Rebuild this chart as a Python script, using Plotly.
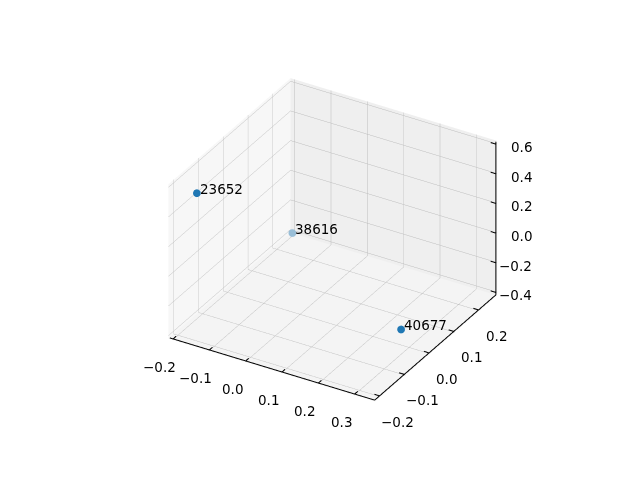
import numpy as np
import plotly.graph_objects as go

# data
labels = ["23652", "38616", "40677"]
xs = [-0.14, -0.20, 0.346]
ys = [-0.212, 0.262, -0.10]
zs = [0.60, -0.40, -0.12]

x_ticks = [-0.2, -0.1, 0.0, 0.1, 0.2, 0.3]
y_ticks = [-0.2, -0.1, 0.0, 0.1, 0.2]
z_ticks = [-0.4, -0.2, 0.0, 0.2, 0.4, 0.6]

def padded(v):
    lo, hi = min(v), max(v)
    p = (hi - lo) / 48.0
    return [lo - p, hi + p]

xr, yr, zr = padded(xs), padded(ys), padded(zs)

def fmt(t):
    return f"{t:.1f}".replace("-", "\u2212")

# matplotlib-like depth shading (view elev=30, azim=-60, box aspect 4:4:3)
el, az = np.radians(30), np.radians(-60)
view = np.array([np.cos(el) * np.cos(az), np.cos(el) * np.sin(az), np.sin(el)])
right = np.array([-np.sin(az), np.cos(az), 0.0])
P = np.array([
    [(x - xr[0]) / (xr[1] - xr[0]) * 4 for x in xs],
    [(y - yr[0]) / (yr[1] - yr[0]) * 4 for y in ys],
    [(z - zr[0]) / (zr[1] - zr[0]) * 3 for z in zs],
])
depth = view @ P
norm = (depth.max() - depth) / (depth.max() - depth.min())
alphas = 1 - 0.7 * norm
alphas = 1 - (1 - alphas) ** 1.5   # face + edge overlap
base = np.array([31, 119, 180])
bg = np.array([240, 240, 240])
colors = []
for a in alphas:
    c = a * base + (1 - a) * bg
    colors.append("rgb(%d,%d,%d)" % tuple(np.round(c).astype(int)))

fig = go.Figure()
fig.add_trace(go.Scatter3d(
    x=xs, y=ys, z=zs, mode="markers",
    marker=dict(size=4.5, color=colors, line=dict(width=0)),
    hoverinfo="skip", showlegend=False,
))

# axis lines on the matplotlib edges (nudged just inside the box so the
# panes do not hide them), with tick marks
ex = (xr[1] - xr[0]) * 0.004
ey = (yr[1] - yr[0]) * 0.004
ez = (zr[1] - zr[0]) * 0.004
dx = (xr[1] - xr[0]) * 0.025
dy = (yr[1] - yr[0]) * 0.025
x0e, x1e = xr[0] + ex, xr[1] - ex
y0e, y1e = yr[0] + ey, yr[1] - ey
z0e, z1e = zr[0] + ez, zr[1] - ez
lx, ly, lz = [], [], []
# x axis: y = ymin, z = zmin
lx += [x0e, x1e, None]; ly += [y0e, y0e, None]; lz += [z0e, z0e, None]
for t in x_ticks:
    lx += [t, t, None]; ly += [y0e, y0e + dy, None]; lz += [z0e, z0e, None]
# y axis: x = xmax, z = zmin
lx += [x1e, x1e, None]; ly += [y0e, y1e, None]; lz += [z0e, z0e, None]
for t in y_ticks:
    lx += [x1e, x1e - dx, None]; ly += [t, t, None]; lz += [z0e, z0e, None]
# z axis: x = xmax, y = ymax
lx += [x1e, x1e, None]; ly += [y1e, y1e, None]; lz += [z0e, z1e, None]
for t in z_ticks:
    lx += [x1e, x1e - dx, None]; ly += [y1e, y1e, None]; lz += [t, t, None]
fig.add_trace(go.Scatter3d(x=lx, y=ly, z=lz, mode="lines",
                           line=dict(color="black", width=2),
                           hoverinfo="skip", showlegend=False))

tfont = dict(family="DejaVu Sans", size=13.5, color="black")
annotations = []
for lab, x, y, z in zip(labels, xs, ys, zs):
    annotations.append(dict(x=x, y=y, z=z, text=lab, showarrow=False,
                            xanchor="left", yanchor="middle", xshift=1, yshift=4,
                            font=tfont))
for t in z_ticks:
    annotations.append(dict(x=xr[1], y=yr[1], z=t, text=fmt(t), showarrow=False,
                            xanchor="right", yanchor="middle", xshift=37, yshift=-3,
                            font=tfont))
for t in x_ticks:
    annotations.append(dict(x=t, y=yr[0], z=zr[0], text=fmt(t), showarrow=False,
                            xanchor="center", yanchor="middle", xshift=-13, yshift=-27,
                            font=tfont))
for t in y_ticks:
    annotations.append(dict(x=xr[1], y=t, z=zr[0], text=fmt(t), showarrow=False,
                            xanchor="center", yanchor="middle", xshift=17, yshift=-25,
                            font=tfont))

def ax(rng, ticks, bgc):
    return dict(
        range=rng, tickvals=ticks,
        title=dict(text=""), showbackground=True, backgroundcolor=bgc,
        gridcolor="#bdbdbd", gridwidth=1,
        showline=False, ticks="", zeroline=False, showticklabels=False,
        showspikes=False,
    )

k = 2.2
c = -0.02 * right
fig.update_layout(
    width=640, height=480, paper_bgcolor="white",
    margin=dict(l=0, r=0, t=0, b=0),
    font=dict(family="DejaVu Sans"),
    scene=dict(
        domain=dict(x=[0.0, 1.0], y=[0.0, 1.0]),
        xaxis=ax(xr, x_ticks, "#f7f7f7"),
        yaxis=ax(yr, y_ticks, "#efefef"),
        zaxis=ax(zr, z_ticks, "#f4f4f4"),
        aspectmode="manual", aspectratio=dict(x=1, y=1, z=0.75),
        camera=dict(eye=dict(x=k * view[0], y=k * view[1], z=k * view[2]),
                    center=dict(x=c[0], y=c[1], z=-0.04),
                    up=dict(x=0, y=0, z=1),
                    projection=dict(type="orthographic")),
        annotations=annotations,
    ),
)
fig.write_html("out.html")
